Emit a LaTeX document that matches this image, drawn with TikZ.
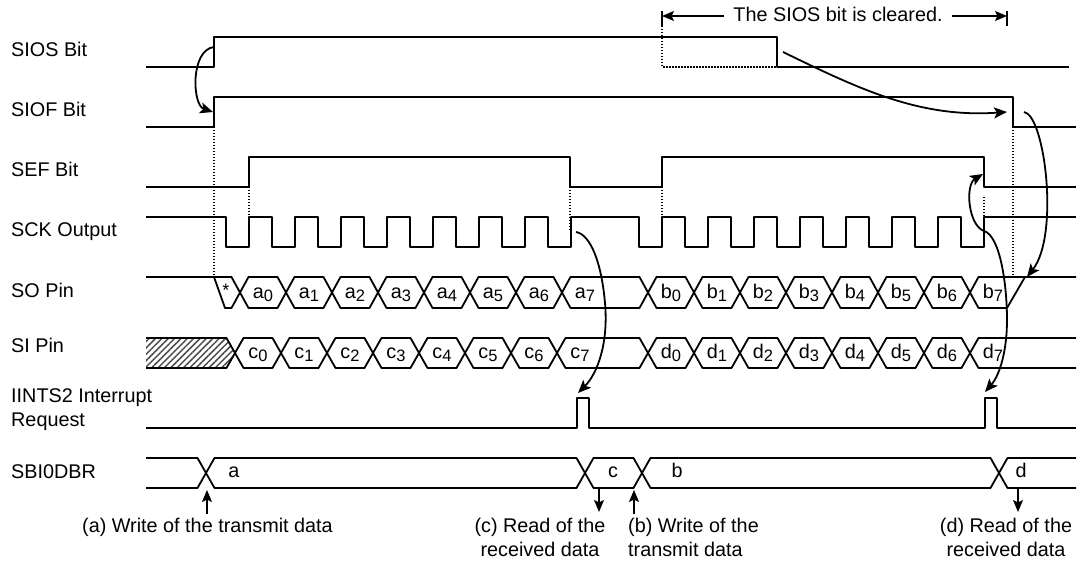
\documentclass[tikz,border=0pt]{standalone}
\usepackage{fontspec}
\setmainfont{Liberation Sans}
\usetikzlibrary{arrows.meta,patterns.meta}
\newcommand{\subidx}[1]{\raisebox{-3pt}{\fontsize{16.5}{16.5}\selectfont #1}}
\tikzset{
	sig/.style={line width=1.8pt,line join=round},
	dotline/.style={line width=1.2pt,dash pattern=on 1.5pt off 1.5pt},
	arr/.style={line width=1.8pt,-{Stealth[length=13pt,width=11pt,inset=3pt]}},
	thinarr/.style={line width=1.2pt,-{Stealth[length=12pt,width=10pt,inset=2.5pt]}},
	lbl/.style={font=\fontsize{19.8}{24}\selectfont,inner sep=0pt},
}
\begin{document}
\begin{tikzpicture}[x=1pt,y=1pt]
		\useasboundingbox (0,0) rectangle (1082,564);
		
		% Row names
		\node[lbl,anchor=base west] (siosName) at (11,507) {SIOS Bit};
		\node[lbl,anchor=base west] (siofName) at (11,447) {SIOF Bit};
		\node[lbl,anchor=base west] (sefName) at (11,387) {SEF Bit};
		\node[lbl,anchor=base west] (sckName) at (11,327) {SCK Output};
		\node[lbl,anchor=base west] (soName) at (11,266) {SO Pin};
		\node[lbl,anchor=base west] (siName) at (11,211) {SI Pin};
		\node[lbl,anchor=base west] (intName) at (11,161) {IINTS2 Interrupt};
		\node[lbl,anchor=base west] (reqName) at (11,137) {Request};
		\node[lbl,anchor=base west] (dbrName) at (11,85) {SBI0DBR};
		
		% Flag bits
		\draw[sig] (146,497) -- (214,497) -- (214,527) -- (777,527) -- (777,497) -- (1069,497);
		\draw[sig] (146,437) -- (214,437) -- (214,467) -- (1013,467) -- (1013,437) -- (1076,437);
		\draw[sig] (146,377) -- (249,377) -- (249,407) -- (570,407) -- (570,377) -- (662,377)
		-- (662,407) -- (984,407) -- (984,377) -- (1076,377);
		
		% SCK Output, two bursts of eight pulses
		\draw[sig] (146,347)
		\foreach \i [evaluate=\i as \x using 226+46*\i] in {0,...,7} {
			-- (\x,347) -- (\x,317) -- (\x+23,317) -- (\x+23,347)
		}
		\foreach \i [evaluate=\i as \x using 639+46*\i] in {0,...,7} {
			-- (\x,347) -- (\x,317) -- (\x+23,317) -- (\x+23,347)
		}
		-- (1076,347);
		
		% SO Pin
		\draw[sig] (146,287) -- (231.5,287) -- (240,271.5) -- (231.5,256) -- (225,256) -- (214,287);
		\node[lbl,font=\fontsize{18}{18}\selectfont] (star) at (226,274) {*};
		\foreach \i [evaluate=\i as \x using 240+46*\i] in {0,...,6} {
			\draw[sig] (\x,271.5) -- (\x+8.5,287) -- (\x+37.5,287) -- (\x+46,271.5)
			-- (\x+37.5,256) -- (\x+8.5,256) -- cycle;
			\node[lbl,anchor=base] (a\i) at (\x+23,265.5) {a\subidx{\i}};
		}
		\draw[sig] (562,271.5) -- (570.5,287) -- (639.5,287) -- (648,271.5) -- (639.5,256) -- (570.5,256) -- cycle;
		\node[lbl,anchor=base] (a7) at (585,265.5) {a\subidx{7}};
		\foreach \i [evaluate=\i as \x using 648+46*\i] in {0,...,6} {
			\draw[sig] (\x,271.5) -- (\x+8.5,287) -- (\x+37.5,287) -- (\x+46,271.5)
			-- (\x+37.5,256) -- (\x+8.5,256) -- cycle;
			\node[lbl,anchor=base] (b\i) at (\x+23,265.5) {b\subidx{\i}};
		}
		\draw[sig] (1076,287) -- (978.5,287) -- (970,271.5) -- (978.5,256) -- (1007,256) -- (1025,287);
		\node[lbl,anchor=base] (b7) at (993,265.5) {b\subidx{7}};
		
		% SI Pin
		\fill[pattern={Lines[angle=45,distance=4.5pt,line width=1.5pt]},pattern color=black!70]
		(146,226) -- (226.5,226) -- (235,211) -- (226.5,196) -- (146,196) -- cycle;
		\draw[sig] (146,226) -- (226.5,226) -- (235,211) -- (226.5,196) -- (146,196);
		\foreach \i [evaluate=\i as \x using 235+46*\i] in {0,...,6} {
			\draw[sig] (\x,211) -- (\x+8.5,226) -- (\x+37.5,226) -- (\x+46,211)
			-- (\x+37.5,196) -- (\x+8.5,196) -- cycle;
			\node[lbl,anchor=base] (c\i) at (\x+23,205.5) {c\subidx{\i}};
		}
		\draw[sig] (557,211) -- (565.5,226) -- (639.5,226) -- (648,211) -- (639.5,196) -- (565.5,196) -- cycle;
		\node[lbl,anchor=base] (c7) at (580,205.5) {c\subidx{7}};
		\foreach \i [evaluate=\i as \x using 648+46*\i] in {0,...,6} {
			\draw[sig] (\x,211) -- (\x+8.5,226) -- (\x+37.5,226) -- (\x+46,211)
			-- (\x+37.5,196) -- (\x+8.5,196) -- cycle;
			\node[lbl,anchor=base] (d\i) at (\x+23,205.5) {d\subidx{\i}};
		}
		\draw[sig] (1076,226) -- (978.5,226) -- (970,211) -- (978.5,196) -- (1076,196);
		\node[lbl,anchor=base] (d7) at (993,205.5) {d\subidx{7}};
		
		% Interrupt request pulses
		\draw[sig] (146,136) -- (577,136) -- (577,166) -- (589,166) -- (589,136) -- (985,136)
		-- (985,166) -- (997,166) -- (997,136) -- (1076,136);
		
		% SBI0DBR
		\draw[sig] (146,106) -- (197.5,106) -- (206,91) -- (197.5,76) -- (146,76);
		\draw[sig] (206,91) -- (214.5,106) -- (576.5,106) -- (585,91) -- (576.5,76) -- (214.5,76) -- cycle;
		\draw[sig] (585,91) -- (593.5,106) -- (633.5,106) -- (642,91) -- (633.5,76) -- (593.5,76) -- cycle;
		\draw[sig] (642,91) -- (650.5,106) -- (990.5,106) -- (999,91) -- (990.5,76) -- (650.5,76) -- cycle;
		\draw[sig] (1076,106) -- (1007.5,106) -- (999,91) -- (1007.5,76) -- (1076,76);
		\node[lbl,anchor=base] (dbrA) at (234,86) {a};
		\node[lbl,anchor=base] (dbrC) at (613,86) {c};
		\node[lbl,anchor=base] (dbrB) at (677,86) {b};
		\node[lbl,anchor=base] (dbrD) at (1021,86) {d};
		
		% Dotted guide lines
		\draw[dotline] (214,437) -- (214,287);
		\draw[dotline] (249,377) -- (249,347);
		\draw[dotline] (570,377) -- (570,334);
		\draw[dotline] (662,377) -- (662,347);
		\draw[dotline] (984,367) -- (984,347);
		\draw[dotline] (1013,437) -- (1013,287);
		\draw[dotline] (662,538) -- (662,497) -- (777,497);
		
		% Span of the cleared bit
		\node[lbl,anchor=base] (cleared) at (838,542) {The SIOS bit is cleared.};
		\coordinate (clearL) at (662,548);
		\coordinate (clearR) at (1007,548);
		\draw[line width=1.2pt] (662,553) -- (662,538);
		\draw[line width=1.2pt] (1007,553) -- (1007,538);
		\draw[thinarr] (cleared.west |- clearL) ++(-9,0) -- (clearL);
		\draw[thinarr] (cleared.east |- clearR) ++(9,0) -- (clearR);
		
		% Curved arrows between the rows
		\coordinate (siosUp) at (214,517);
		\coordinate (siofUp) at (213,452);
		\coordinate (siosDown) at (783,512);
		\coordinate (siofEnd) at (1007,452);
		\coordinate (siofDown) at (1024,452);
		\coordinate (soEnd) at (1027,287);
		\coordinate (sckLast) at (984,333);
		\coordinate (sefDown) at (983,390);
		\coordinate (sckMid) at (1007,244);
		\coordinate (reqTwo) at (985,172);
		\coordinate (sckFirst) at (576,332);
		\coordinate (sckVia) at (605,261);
		\coordinate (reqOne) at (578,171);
		\draw[arr] (siosUp) to[out=187,in=162,out distance=24pt,in distance=22pt] (siofUp);
		\draw[arr] (siosDown) to[out=-26,in=184,out distance=86pt,in distance=87pt] (siofEnd);
		\draw[arr] (siofDown) to[out=-8,in=52,out distance=21pt,in distance=53pt] (soEnd);
		\draw[arr] (sckLast) to[out=160,in=211,out distance=17pt,in distance=21pt] (sefDown);
		\draw[arr] (sckLast) to[out=-17,in=90,out distance=17pt,in distance=35pt] (sckMid)
		to[out=-90,in=49,out distance=30pt,in distance=23pt] (reqTwo);
		\draw[arr] (sckFirst) to[out=-10,in=95,out distance=15pt,in distance=40pt] (sckVia)
		to[out=-85,in=45,out distance=40pt,in distance=28pt] (reqOne);
		
		% Read and write notes below SBI0DBR
		\node[lbl,anchor=base west] (noteA) at (82,31) {(a) Write of the transmit data};
		\node[lbl,anchor=base] (noteC1) at (540,31) {(c) Read of the};
		\node[lbl,anchor=base] (noteC2) at (540,7) {received data};
		\node[lbl,anchor=base west] (noteB1) at (628,31) {(b) Write of the};
		\node[lbl,anchor=base west] (noteB2) at (628,7) {transmit data};
		\node[lbl,anchor=base] (noteD1) at (1006,31) {(d) Read of the};
		\node[lbl,anchor=base] (noteD2) at (1006,7) {received data};
		\coordinate (wrA) at (207,74);
		\coordinate (rdC) at (599,76);
		\coordinate (wrB) at (634,74);
		\coordinate (rdD) at (1018,76);
		\draw[thinarr] (wrA |- noteA.north) ++(0,4) -- (wrA);
		\draw[thinarr] (rdC) -- (599,52);
		\draw[thinarr] (wrB |- noteB1.north) ++(0,4) -- (wrB);
		\draw[thinarr] (rdD) -- (1018,52);
		
	\end{tikzpicture}
\end{document}
